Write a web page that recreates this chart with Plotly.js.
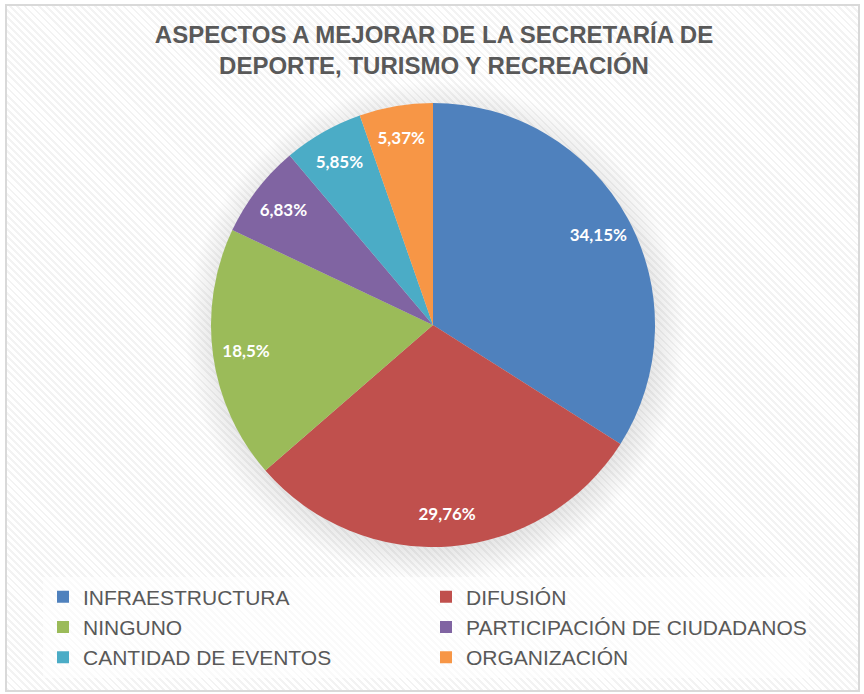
<!DOCTYPE html>
<html>
<head>
<meta charset="utf-8">
<script src="https://cdn.plot.ly/plotly-3.0.1.min.js"></script>
<style>
  html, body { margin: 0; padding: 0; background: #ffffff; }
  #wrap {
    position: absolute; left: 5px; top: 4px; width: 855px; height: 688px;
    box-sizing: border-box; border: 2px solid #d9d9d9;
    background:
      radial-gradient(ellipse 250px 250px at 428px 325px, rgba(0,0,0,0.13) 0, rgba(0,0,0,0.10) 215px, rgba(0,0,0,0.0) 250px),
      repeating-linear-gradient(45deg, #f3f3f3 0px, #f3f3f3 2px, #ffffff 2px, #ffffff 5px);
  }
  #chart { position: absolute; left: 0; top: 0; width: 864px; height: 694px; }
</style>
</head>
<body>
<div id="wrap"></div>
<div id="chart"></div>
<script>
const categories = ['INFRAESTRUCTURA', 'DIFUSIÓN', 'NINGUNO', 'PARTICIPACIÓN DE CIUDADANOS', 'CANTIDAD DE EVENTOS', 'ORGANIZACIÓN'];
const values = [34.15, 29.76, 18.5, 6.83, 5.85, 5.37];
const colors = ['#4F81BD', '#C0504D', '#9BBB59', '#8064A2', '#4BACC6', '#F79646'];
const titleText = 'ASPECTOS A MEJORAR DE LA SECRETARÍA DE<br>DEPORTE, TURISMO Y RECREACIÓN';

const pctLabels = values.map(v => String(v).replace('.', ',') + '%');

const W = 864, H = 694;
const pieDomain = { x: [211 / W, 655 / W], y: [1 - 547 / H, 1 - 103 / H] };

// Pie slices
const slices = {
  type: 'pie',
  labels: categories,
  values: values,
  textinfo: 'none',
  sort: false,
  direction: 'clockwise',
  rotation: 0,
  marker: { colors: colors, line: { color: '#ffffff', width: 0 } },
  domain: pieDomain,
  hoverinfo: 'label+text',
  text: pctLabels
};

// Transparent ring used only to place the data labels near the outer edge
const labelRing = {
  type: 'pie',
  labels: categories,
  values: values,
  text: pctLabels,
  textinfo: 'text',
  textposition: 'inside',
  insidetextorientation: 'horizontal',
  sort: false,
  direction: 'clockwise',
  rotation: 0,
  hole: 0.7,
  showlegend: false,
  marker: { colors: colors.map(() => 'rgba(0,0,0,0)'), line: { width: 0 } },
  textfont: { family: 'Lato, "Open Sans", sans-serif', size: 17, color: '#ffffff', weight: 'bold' },
  domain: pieDomain,
  hoverinfo: 'skip'
};

const layout = {
  width: W, height: H,
  margin: { l: 0, r: 0, t: 0, b: 0 },
  paper_bgcolor: 'rgba(0,0,0,0)',
  plot_bgcolor: 'rgba(0,0,0,0)',
  title: {
    text: titleText,
    font: { family: '"Liberation Sans", Arial, sans-serif', size: 24, color: '#595959', weight: 'bold' },
    x: 434 / W, xanchor: 'center',
    y: 1 - 43 / H, yanchor: 'top', yref: 'paper'
  },
  showlegend: true,
  legend: {
    orientation: 'h',
    x: 43 / W, xanchor: 'left',
    y: 1 - 627 / H, yanchor: 'middle',
    entrywidth: 338, entrywidthmode: 'pixels',
    font: { family: '"Liberation Sans", Arial, sans-serif', size: 21, color: '#595959' },
    bgcolor: 'rgba(255,255,255,0.6)',
    traceorder: 'normal'
  }
};

Plotly.newPlot('chart', [slices, labelRing], layout, { displayModeBar: false, staticPlot: true });
</script>
</body>
</html>
